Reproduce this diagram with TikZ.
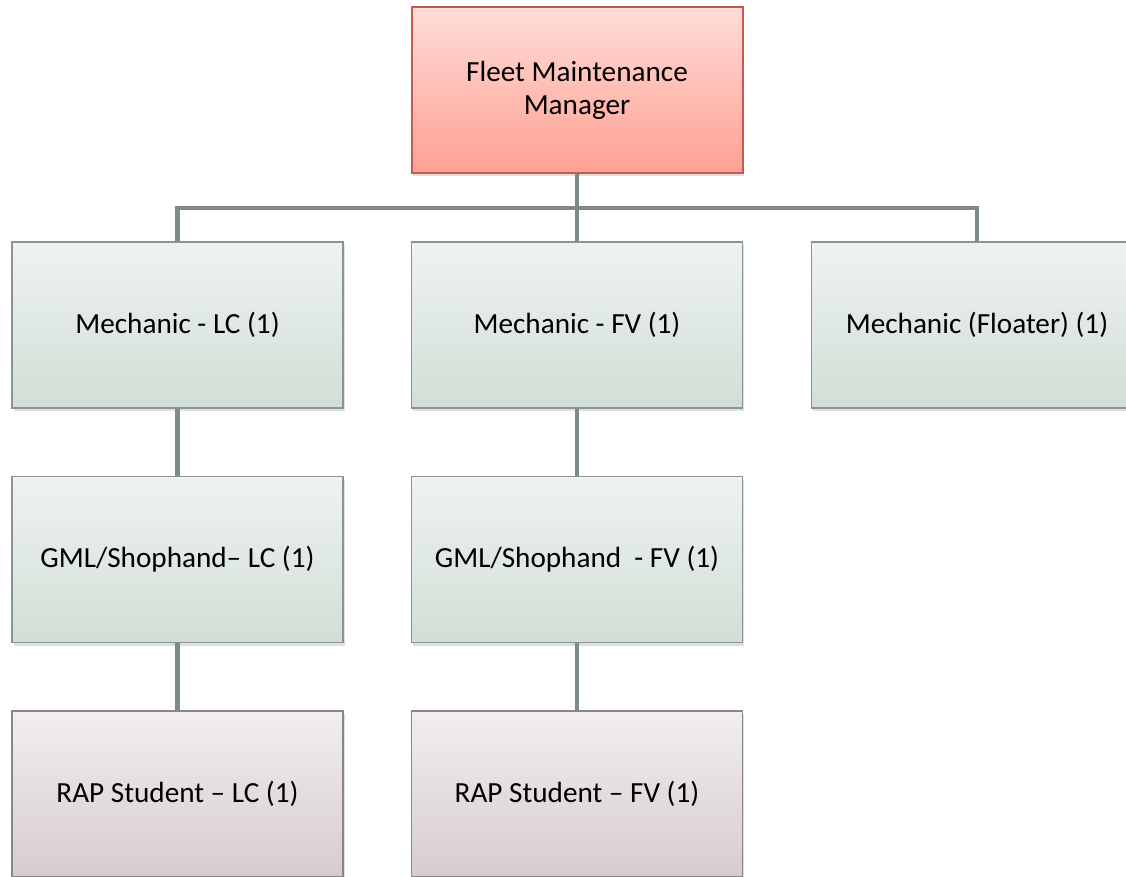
\documentclass[tikz,border=0pt]{standalone}
\usepackage{fontspec}
\setmainfont{Carlito}
\usepackage{xcolor}
\usetikzlibrary{shadows}

\definecolor{mgrtop}{HTML}{FFDCD8}
\definecolor{mgrbot}{HTML}{FFA093}
\definecolor{mgrline}{HTML}{C65A4E}
\definecolor{grntop}{HTML}{EFF3F0}
\definecolor{grnbot}{HTML}{D1DED6}
\definecolor{grnline}{HTML}{8A9590}
\definecolor{pnktop}{HTML}{F2EEEF}
\definecolor{pnkbot}{HTML}{D6CCD0}
\definecolor{pnkline}{HTML}{8A8587}
\definecolor{linkcol}{HTML}{7C8C84}

\begin{document}
\begin{tikzpicture}[x=0.5pt, y=-0.5pt,
        box/.style={rectangle, inner sep=0pt, minimum width=165.5pt, minimum height=83pt,
            align=center, font=\fontsize{14.6}{16.6}\selectfont,
            drop shadow={opacity=0.25, shadow xshift=0.8pt, shadow yshift=-1.6pt}},
        mgrbox/.style={box, draw=mgrline, line width=1pt, top color=mgrtop, bottom color=mgrbot},
        staffbox/.style={box, draw=grnline, line width=0.6pt, top color=grntop, bottom color=grnbot},
        studbox/.style={box, draw=pnkline, line width=0.6pt, top color=pnktop, bottom color=pnkbot},
        link/.style={draw=linkcol, line width=2.4pt}]
        \useasboundingbox (0,0) rectangle (1126,877);

        \node[mgrbox] (mgr) at (577, 90) {Fleet Maintenance\\Manager};

        \node[staffbox] (mechLC) at (177.5, 325) {Mechanic - LC (1)};
        \node[staffbox] (mechFV) at (577, 325) {Mechanic - FV (1)};
        \node[staffbox] (mechFl) at (977, 325) {Mechanic (Floater) (1)};

        \node[staffbox] (gmlLC) at (177.5, 559.5) {GML/Shophand-- LC (1)};
        \node[staffbox] (gmlFV) at (577, 559.5) {GML/Shophand \ - FV (1)};

        \node[studbox] (rapLC) at (177.5, 794) {RAP Student -- LC (1)};
        \node[studbox] (rapFV) at (577, 794) {RAP Student -- FV (1)};

        \coordinate (bus) at (577, 208);

        \draw[link] (mgr.south) -- (mechFV.north);
        \draw[link] (mechLC.north) |- (bus) -| (mechFl.north); % branch to row 1
        \draw[link] (mechLC.south) -- (gmlLC.north);
        \draw[link] (mechFV.south) -- (gmlFV.north);
        \draw[link] (gmlLC.south) -- (rapLC.north);
        \draw[link] (gmlFV.south) -- (rapFV.north);
    \end{tikzpicture}
\end{document}
